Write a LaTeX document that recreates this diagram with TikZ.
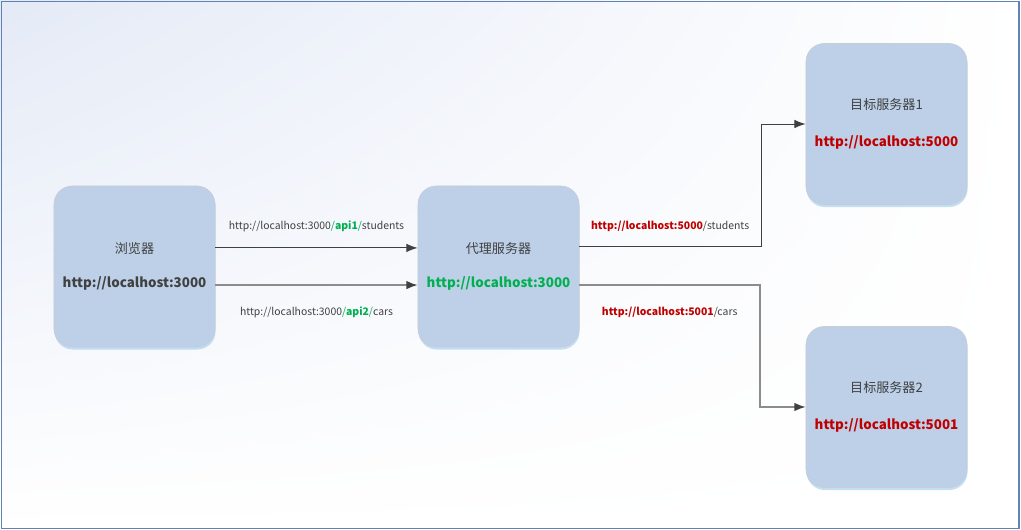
\documentclass[tikz,border=0pt]{standalone}
\usepackage{fontspec}
\setmainfont{Noto Sans CJK SC}
\usetikzlibrary{arrows.meta}
\usetikzlibrary{shadings}
\usetikzlibrary{shadows}

\definecolor{boxblue}{RGB}{189,208,232}
\definecolor{boxedge}{RGB}{200,204,212}
\definecolor{shadeblue}{RGB}{170,210,240}
\definecolor{bgblue}{RGB}{228,234,246}
\definecolor{framblue}{RGB}{96,130,180}
\definecolor{textgray}{RGB}{64,64,64}
\definecolor{linegray}{RGB}{140,140,140}
\definecolor{apigreen}{RGB}{0,176,80}
\definecolor{urlred}{RGB}{192,0,0}

\begin{document}
\begin{tikzpicture}[x=0.025cm, y=-0.025cm]

\tikzstyle{server}=[rectangle, rounded corners=13pt, inner sep=0pt, minimum width=4.025cm, minimum height=4.025cm, draw=boxedge, line width=0.4pt, fill=boxblue, align=center, text=textgray, font=\fontsize{9.3}{11}\selectfont, drop shadow={shadow xshift=0.4pt, shadow yshift=-1.8pt, fill=shadeblue, opacity=0.7}]
\tikzstyle{urllabel}=[font=\fontsize{7.4}{9}\selectfont, text=textgray, inner sep=1pt]
\tikzstyle{connect}=[-{Latex[length=8pt, width=6pt]}, draw=textgray, line width=0.7pt]
\tikzstyle{connectb}=[-{Latex[length=8pt, width=6pt, color=textgray]}, draw=linegray, line width=1.05pt]

% background and frame
\useasboundingbox (0,0) rectangle (1021,530);
\shade[upper left=bgblue, upper right=white, lower left=white, lower right=white] (0,0) rectangle (1021,530);
\draw[framblue, line width=0.9pt] (1.5,1.5) rectangle (1019,528.5);

\node[server] (browser) at (134.5,266.5) {浏览器\\[13pt]{\bfseries\fontsize{9.5}{12}\selectfont http://localhost:3000}};
\node[server] (proxy) at (498.5,266.5) {代理服务器\\[13pt]{\bfseries\fontsize{9.5}{12}\selectfont\color{apigreen} http://localhost:3000}};
\node[server] (target1) at (886.5,124) {目标服务器1\\[15.5pt]{\bfseries\fontsize{9.5}{12}\selectfont\color{urlred} http://localhost:5000}};
\node[server] (target2) at (886.5,407) {目标服务器2\\[15.5pt]{\bfseries\fontsize{9.5}{12}\selectfont\color{urlred} http://localhost:5001}};

\coordinate (bend1) at (761,124);
\coordinate (bend2) at (760,407);

\draw[connect] ([yshift=13.2pt]browser.east) -- ([yshift=13.2pt]proxy.west)
  node[urllabel, midway, above=10pt] {http://localhost:3000\textcolor{apigreen}{/\textbf{api1}/}students};
\draw[connectb] ([yshift=-13.2pt]browser.east) -- ([yshift=-13.2pt]proxy.west)
  node[urllabel, midway, below=14pt] {http://localhost:3000\textcolor{apigreen}{/\textbf{api2}/}cars};

\draw[connect] ([yshift=13.9pt]proxy.east) -| (bend1)
  node[urllabel, pos=0.25, above=9.5pt] {\textcolor{urlred}{\textbf{http://localhost:5000}}/students}
  -- (target1.west);
\draw[connectb] ([yshift=-13.2pt]proxy.east) -| (bend2)
  node[urllabel, pos=0.25, below=14pt] {\textcolor{urlred}{\textbf{http://localhost:5001}}/cars}
  -- (target2.west);

\end{tikzpicture}
\end{document}
